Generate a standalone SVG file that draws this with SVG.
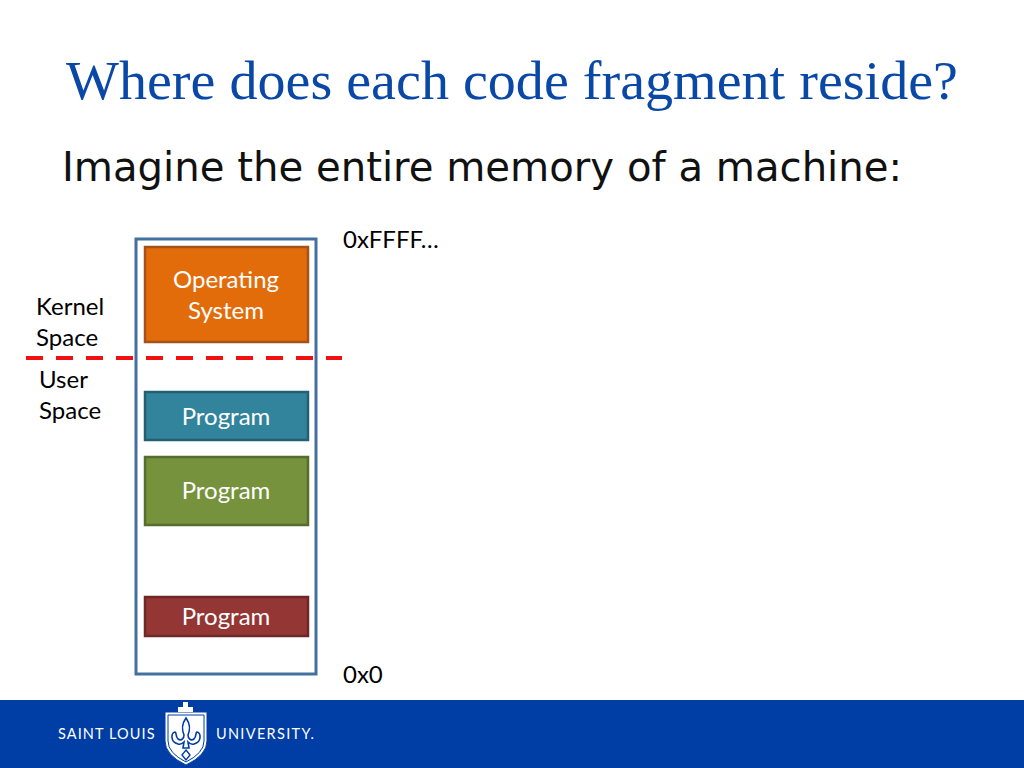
<svg xmlns="http://www.w3.org/2000/svg" width="1024" height="768" viewBox="0 0 1024 768">
<style>
.lbl{font-family:Lato,"Liberation Sans",sans-serif;font-size:24px;fill:#000}
.in{font-family:Lato,"Liberation Sans",sans-serif;font-size:24px;fill:#fff;text-anchor:middle}
.box{stroke-width:2.5}
.logo{font-family:Lato,"Liberation Sans",sans-serif;font-size:14.5px;fill:#fff}
</style>
<rect width="1024" height="768" fill="#fff"/>
<text x="66" y="99" font-family="Liberation Serif,serif" font-size="54" fill="#0a48a8" textLength="892" lengthAdjust="spacingAndGlyphs">Where does each code fragment reside?</text>
<text x="62" y="181" font-family="DejaVu Sans,sans-serif" font-size="40" fill="#111" textLength="840" lengthAdjust="spacingAndGlyphs">Imagine the entire memory of a machine:</text>
<g id="memory"><rect x="136" y="239" width="180" height="435" fill="#fff" stroke="#44709f" stroke-width="3"/></g>
<g id="os"><rect class="box" x="145" y="247" width="163" height="95" fill="#e36c0a" stroke="#a4521a"/><text class="in" x="226" y="288">Operating</text><text class="in" x="226" y="319">System</text></g>
<g id="program1"><rect class="box" x="145" y="392" width="163" height="48" fill="#31849b" stroke="#235f72"/><text class="in" x="226" y="425">Program</text></g>
<g id="program2"><rect class="box" x="145" y="457" width="163" height="68" fill="#76923c" stroke="#566d2c"/><text class="in" x="226" y="499">Program</text></g>
<g id="program3"><rect class="box" x="145" y="597" width="163" height="39" fill="#943634" stroke="#6e2827"/><text class="in" x="226" y="625">Program</text></g>
<g id="connectors"><line x1="26" y1="358" x2="342" y2="358" stroke="#f01010" stroke-width="4" stroke-dasharray="17 13"/></g>
<g id="labels">
<text class="lbl" x="36" y="315">Kernel</text><text class="lbl" x="36" y="346">Space</text>
<text class="lbl" x="39" y="388">User</text><text class="lbl" x="39" y="419">Space</text>
<text class="lbl" x="343" y="248">0xFFFF…</text><text class="lbl" x="343" y="683">0x0</text>
</g>
<g id="footer">
<rect y="700" width="1024" height="68" fill="#003da5"/>
<text class="logo" x="58" y="739" textLength="98" letter-spacing="1.5">SAINT LOUIS</text>
<text class="logo" x="216" y="739" textLength="100" letter-spacing="2">UNIVERSITY.</text>
<path d="M165 712H207V741Q207 755 186 765Q165 755 165 741Z" fill="#fff" stroke="#003da5" stroke-width="1"/>
<path d="M168 715H204V741Q204 753 186 762Q168 753 168 741Z" fill="none" stroke="#003da5" stroke-width="1"/>
<path d="M178 712V707H183V702H188V707H193V712Z" fill="#fff"/>
<path d="M186 718C181 725 182 730 184 735C184 739 181 741 178 739C175 736 177 733 175 732C171 733 170 742 178 744C181 745 183 743 184 742L183 748H189L188 742C189 743 191 745 194 744C202 742 201 733 197 732C195 733 197 736 194 739C191 741 188 739 188 735C190 730 191 725 186 718Z" fill="#fff" stroke="#003da5" stroke-width="1.6"/>
<path d="M186 750L190 755L186 760L182 755Z" fill="none" stroke="#003da5" stroke-width="1.4"/>
</g>
</svg>
